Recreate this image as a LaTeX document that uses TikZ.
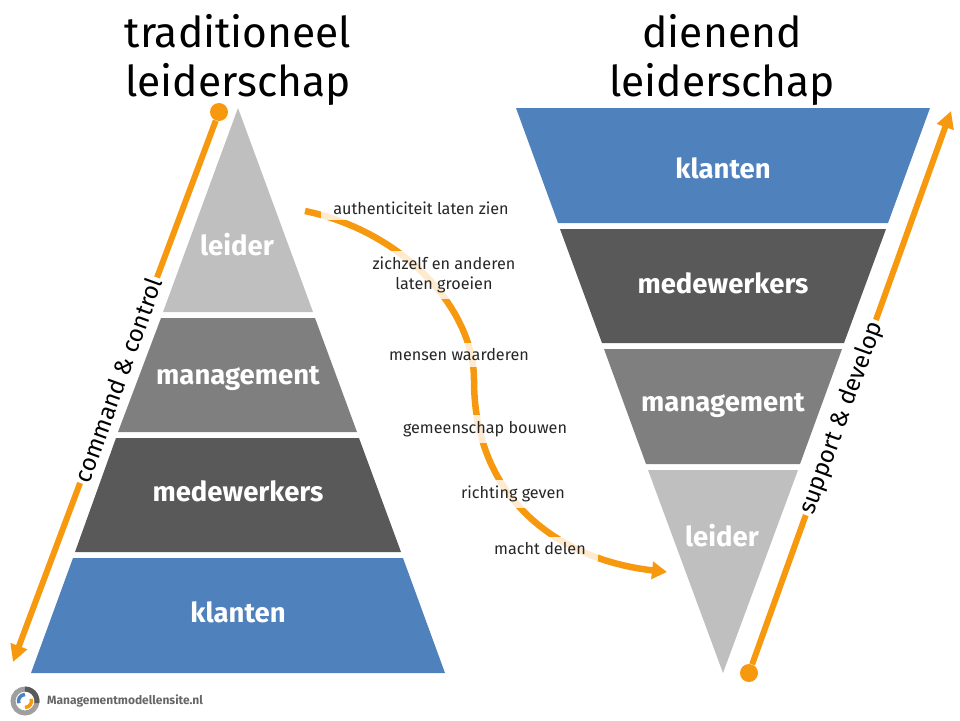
\documentclass[tikz,border=0pt]{standalone}
\usepackage{fontspec}
\setmainfont{Fira Sans}
\usetikzlibrary{arrows.meta}
\definecolor{arrowor}{HTML}{F7990F}
\definecolor{layerblue}{HTML}{4F81BD}
\definecolor{layerdark}{HTML}{595959}
\definecolor{layermid}{HTML}{7F7F7F}
\definecolor{layerlight}{HTML}{BFBFBF}
\tikzset{
  title/.style={font=\fontsize{42.5}{49.5}\selectfont,text=black,align=center,inner sep=0pt},
  layer/.style={font=\fontsize{27.5}{30}\selectfont\bfseries,text=white,inner sep=0pt},
  step label/.style={font=\fontsize{16.2}{19.5}\selectfont,text=black!85,align=center,fill=white,fill opacity=.8,text opacity=1,inner xsep=12pt,inner ysep=6pt},
  side label/.style={font=\fontsize{24}{28}\selectfont,text=black,fill=white,rotate=70,inner sep=2pt},
  bigarrow/.style={draw=arrowor,line width=6pt,-{Triangle[length=17pt,width=17pt]}},
  dot/.style={circle,fill=arrowor,minimum size=18pt,inner sep=0pt}
}
\begin{document}
\begin{tikzpicture}[x=1pt,y=-1pt]
\useasboundingbox (0,0) rectangle (960,720);
% titles
\node[title] (titleleft) at (238,60) {traditioneel\\leiderschap};
\node[title] (titleright) at (722,60) {dienend\\leiderschap};
% left pyramid
\fill [layerlight] (238,108) -- (313,312) -- (163,312) -- cycle;
\fill [layermid] (161,318) -- (315,318) -- (357,432) -- (118,432) -- cycle;
\fill [layerdark] (116,438) -- (359,438) -- (401,552) -- (75,552) -- cycle;
\fill [layerblue] (73,558) -- (403,558) -- (445,673) -- (31,673) -- cycle;
\node[layer] (leiderleft) at (237,245) {leider};
\node[layer] (managementleft) at (238,378) {management};
\node[layer] (medewerkersleft) at (238,491) {medewerkers};
\node[layer] (klantenleft) at (238,612) {klanten};
% right pyramid
\fill [layerblue] (516,108) -- (930,108) -- (888,223) -- (558,223) -- cycle;
\fill [layerdark] (560,229) -- (886,229) -- (844,343) -- (602,343) -- cycle;
\fill [layermid] (604,349) -- (842,349) -- (800,464) -- (646,464) -- cycle;
\fill [layerlight] (648,470) -- (798,470) -- (723,673) -- cycle;
\node[layer] (klantenright) at (723,168) {klanten};
\node[layer] (medewerkersright) at (723,283) {medewerkers};
\node[layer] (managementright) at (723,405) {management};
\node[layer] (leiderright) at (722,536) {leider};
% side arrows
\node[dot] (dotleft) at (219,112) {};
\coordinate (tipleft) at (13,662);
\draw [bigarrow] (dotleft) -- (tipleft);
\node[side label] (command) at (118,380) {command \& control};
\node[dot] (dotright) at (749,673) {};
\coordinate (tipright) at (951,111);
\draw [bigarrow] (dotright) -- (tipright);
\node[side label] (support) at (842,418) {support \& develop};
% middle curve
\coordinate (curvestart) at (305,211);
\coordinate (curvemid) at (474,380);
\coordinate (curveend) at (667,572);
\draw [draw=arrowor,line width=6.5pt,-{Triangle[length=15pt,width=17pt]}] (curvestart) .. controls (405,232) and (474,310) .. (curvemid) .. controls (474,500) and (560,560) .. (curveend);
\node[step label] (stepone) at (421,208) {authenticiteit laten zien};
\node[step label] (steptwo) at (444,275) {zichzelf en anderen\\laten groeien};
\node[step label] (stepthree) at (459,355) {mensen waarderen};
\node[step label] (stepfour) at (485,429) {gemeenschap bouwen};
\node[step label] (stepfive) at (513,494) {richting geven};
\node[step label] (stepsix) at (540,549) {macht delen};
% logo
\draw [layermid!75,line width=5pt] (25,701) circle (12);
\draw [layerdark,line width=5pt] (25,689) arc (-90:10:12);
\draw [layerblue,line width=3.5pt] (25,694.5) arc (-90:-200:6.5);
\draw [arrowor,line width=3.5pt] (25,707.5) arc (90:-20:6.5);
\node[font=\fontsize{12}{14}\selectfont\bfseries,text=black!60,anchor=west,inner sep=0pt] (logotext) at (47,701) {Managementmodellensite.nl};
\end{tikzpicture}
\end{document}
